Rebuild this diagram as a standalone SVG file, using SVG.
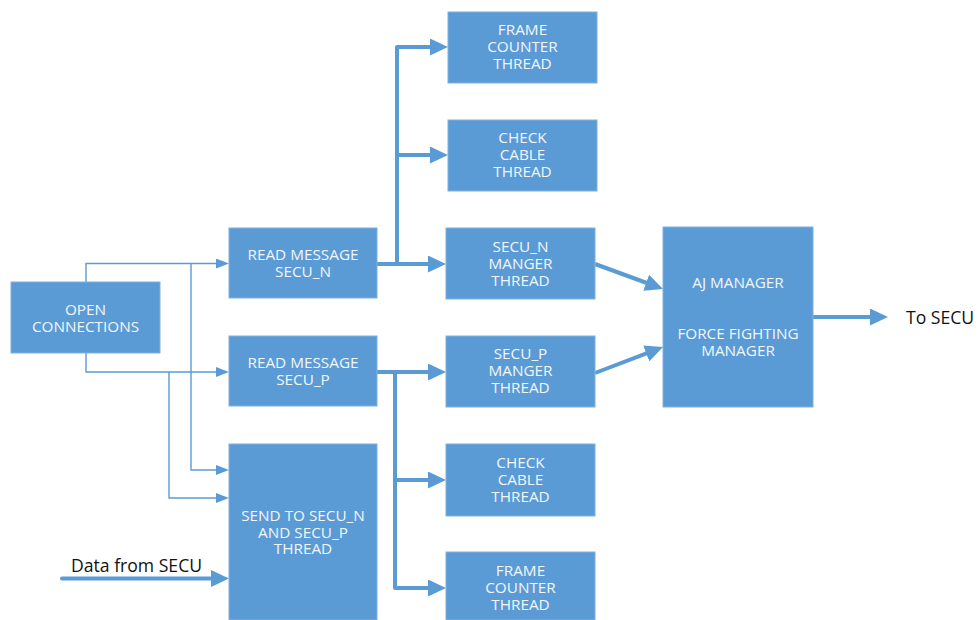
<svg xmlns="http://www.w3.org/2000/svg" width="979" height="620" viewBox="0 0 979 620">
<defs>
<style>
.box{fill:#5B9BD5;stroke:#7FB0E0;stroke-width:1}
.t{font-family:"Open Sans","Noto Sans",sans-serif;font-size:15.3px;fill:#F2F6FB;text-anchor:middle}
.k{font-family:"Open Sans","Noto Sans",sans-serif;font-size:17.6px;fill:#111}
.thin{fill:none;stroke:#5B9BD5;stroke-width:1.4}
.thick{fill:none;stroke:#5B9BD5;stroke-width:4;stroke-linejoin:round}
</style>
<marker id="ah" markerUnits="userSpaceOnUse" markerWidth="18" markerHeight="17" refX="8" refY="8.5" orient="auto"><path d="M0,0 L18,8.5 L0,17 z" fill="#5B9BD5"/></marker>
<marker id="as" markerUnits="userSpaceOnUse" markerWidth="13" markerHeight="10" refX="5" refY="5" orient="auto"><path d="M0,0 L13,5 L0,10 z" fill="#5B9BD5"/></marker>
</defs>
<g id="connectors">
<path class="thin" d="M86,282 V263.5 H221" marker-end="url(#as)"/>
<path class="thin" d="M191,263.5 V470 H221" marker-end="url(#as)"/>
<path class="thin" d="M86,353 V372 H221" marker-end="url(#as)"/>
<path class="thin" d="M169,372 V498 H221" marker-end="url(#as)"/>
<path class="thick" d="M377,264 H436" marker-end="url(#ah)"/>
<path class="thick" d="M397,264 V47 H438" marker-end="url(#ah)"/>
<path class="thick" d="M397,155 H438" marker-end="url(#ah)"/>
<path class="thick" d="M377,372 H436" marker-end="url(#ah)"/>
<path class="thick" d="M395,372 V588 H436" marker-end="url(#ah)"/>
<path class="thick" d="M395,480 H436" marker-end="url(#ah)"/>
<path class="thick" d="M595,264 L653.7,285.5" marker-end="url(#ah)"/>
<path class="thick" d="M595,373 L653.7,350.6" marker-end="url(#ah)"/>
<path class="thick" d="M813,317 H878" marker-end="url(#ah)"/>
<path class="thick" d="M62,578.5 H219" stroke-linecap="round" marker-end="url(#ah)"/>
</g>
<g id="open"><rect class="box" x="11" y="282" width="149" height="71"/><text class="t" x="85.5" y="314.5">OPEN</text><text class="t" x="85.5" y="331.5">CONNECTIONS</text></g>
<g id="readN"><rect class="box" x="229" y="228" width="148" height="70"/><text class="t" x="303" y="259.5">READ MESSAGE</text><text class="t" x="303" y="276.5">SECU_N</text></g>
<g id="readP"><rect class="box" x="229" y="336" width="148" height="70"/><text class="t" x="303" y="367.5">READ MESSAGE</text><text class="t" x="303" y="384.5">SECU_P</text></g>
<g id="send"><rect class="box" x="229" y="444" width="148" height="176"/><text class="t" x="303" y="521">SEND TO SECU_N</text><text class="t" x="303" y="537.7">AND SECU_P</text><text class="t" x="303" y="554.3">THREAD</text></g>
<g id="frameN"><rect class="box" x="448" y="12" width="149" height="71"/><text class="t" x="522.5" y="35.3">FRAME</text><text class="t" x="522.5" y="52.3">COUNTER</text><text class="t" x="522.5" y="69.3">THREAD</text></g>
<g id="cableN"><rect class="box" x="448" y="120" width="149" height="71"/><text class="t" x="522.5" y="143.3">CHECK</text><text class="t" x="522.5" y="160.3">CABLE</text><text class="t" x="522.5" y="177.3">THREAD</text></g>
<g id="secuN"><rect class="box" x="446" y="228" width="149" height="71"/><text class="t" x="520.5" y="251.7">SECU_N</text><text class="t" x="520.5" y="268.7">MANGER</text><text class="t" x="520.5" y="285.7">THREAD</text></g>
<g id="secuP"><rect class="box" x="446" y="336" width="149" height="71"/><text class="t" x="520.5" y="359.3">SECU_P</text><text class="t" x="520.5" y="376.3">MANGER</text><text class="t" x="520.5" y="393.3">THREAD</text></g>
<g id="cableP"><rect class="box" x="446" y="444" width="149" height="72"/><text class="t" x="520.5" y="467.7">CHECK</text><text class="t" x="520.5" y="484.7">CABLE</text><text class="t" x="520.5" y="501.7">THREAD</text></g>
<g id="frameP"><rect class="box" x="446" y="552" width="149" height="68"/><text class="t" x="520.5" y="575.7">FRAME</text><text class="t" x="520.5" y="592.7">COUNTER</text><text class="t" x="520.5" y="609.7">THREAD</text></g>
<g id="aj"><rect class="box" x="663" y="227" width="150" height="180"/><text class="t" x="738" y="287.7">AJ MANAGER</text><text class="t" x="738" y="339">FORCE FIGHTING</text><text class="t" x="738" y="355.7">MANAGER</text></g>
<g id="labels"><text class="k" x="906" y="323.5">To SECU</text><text class="k" x="71" y="572">Data from SECU</text></g>
</svg>
